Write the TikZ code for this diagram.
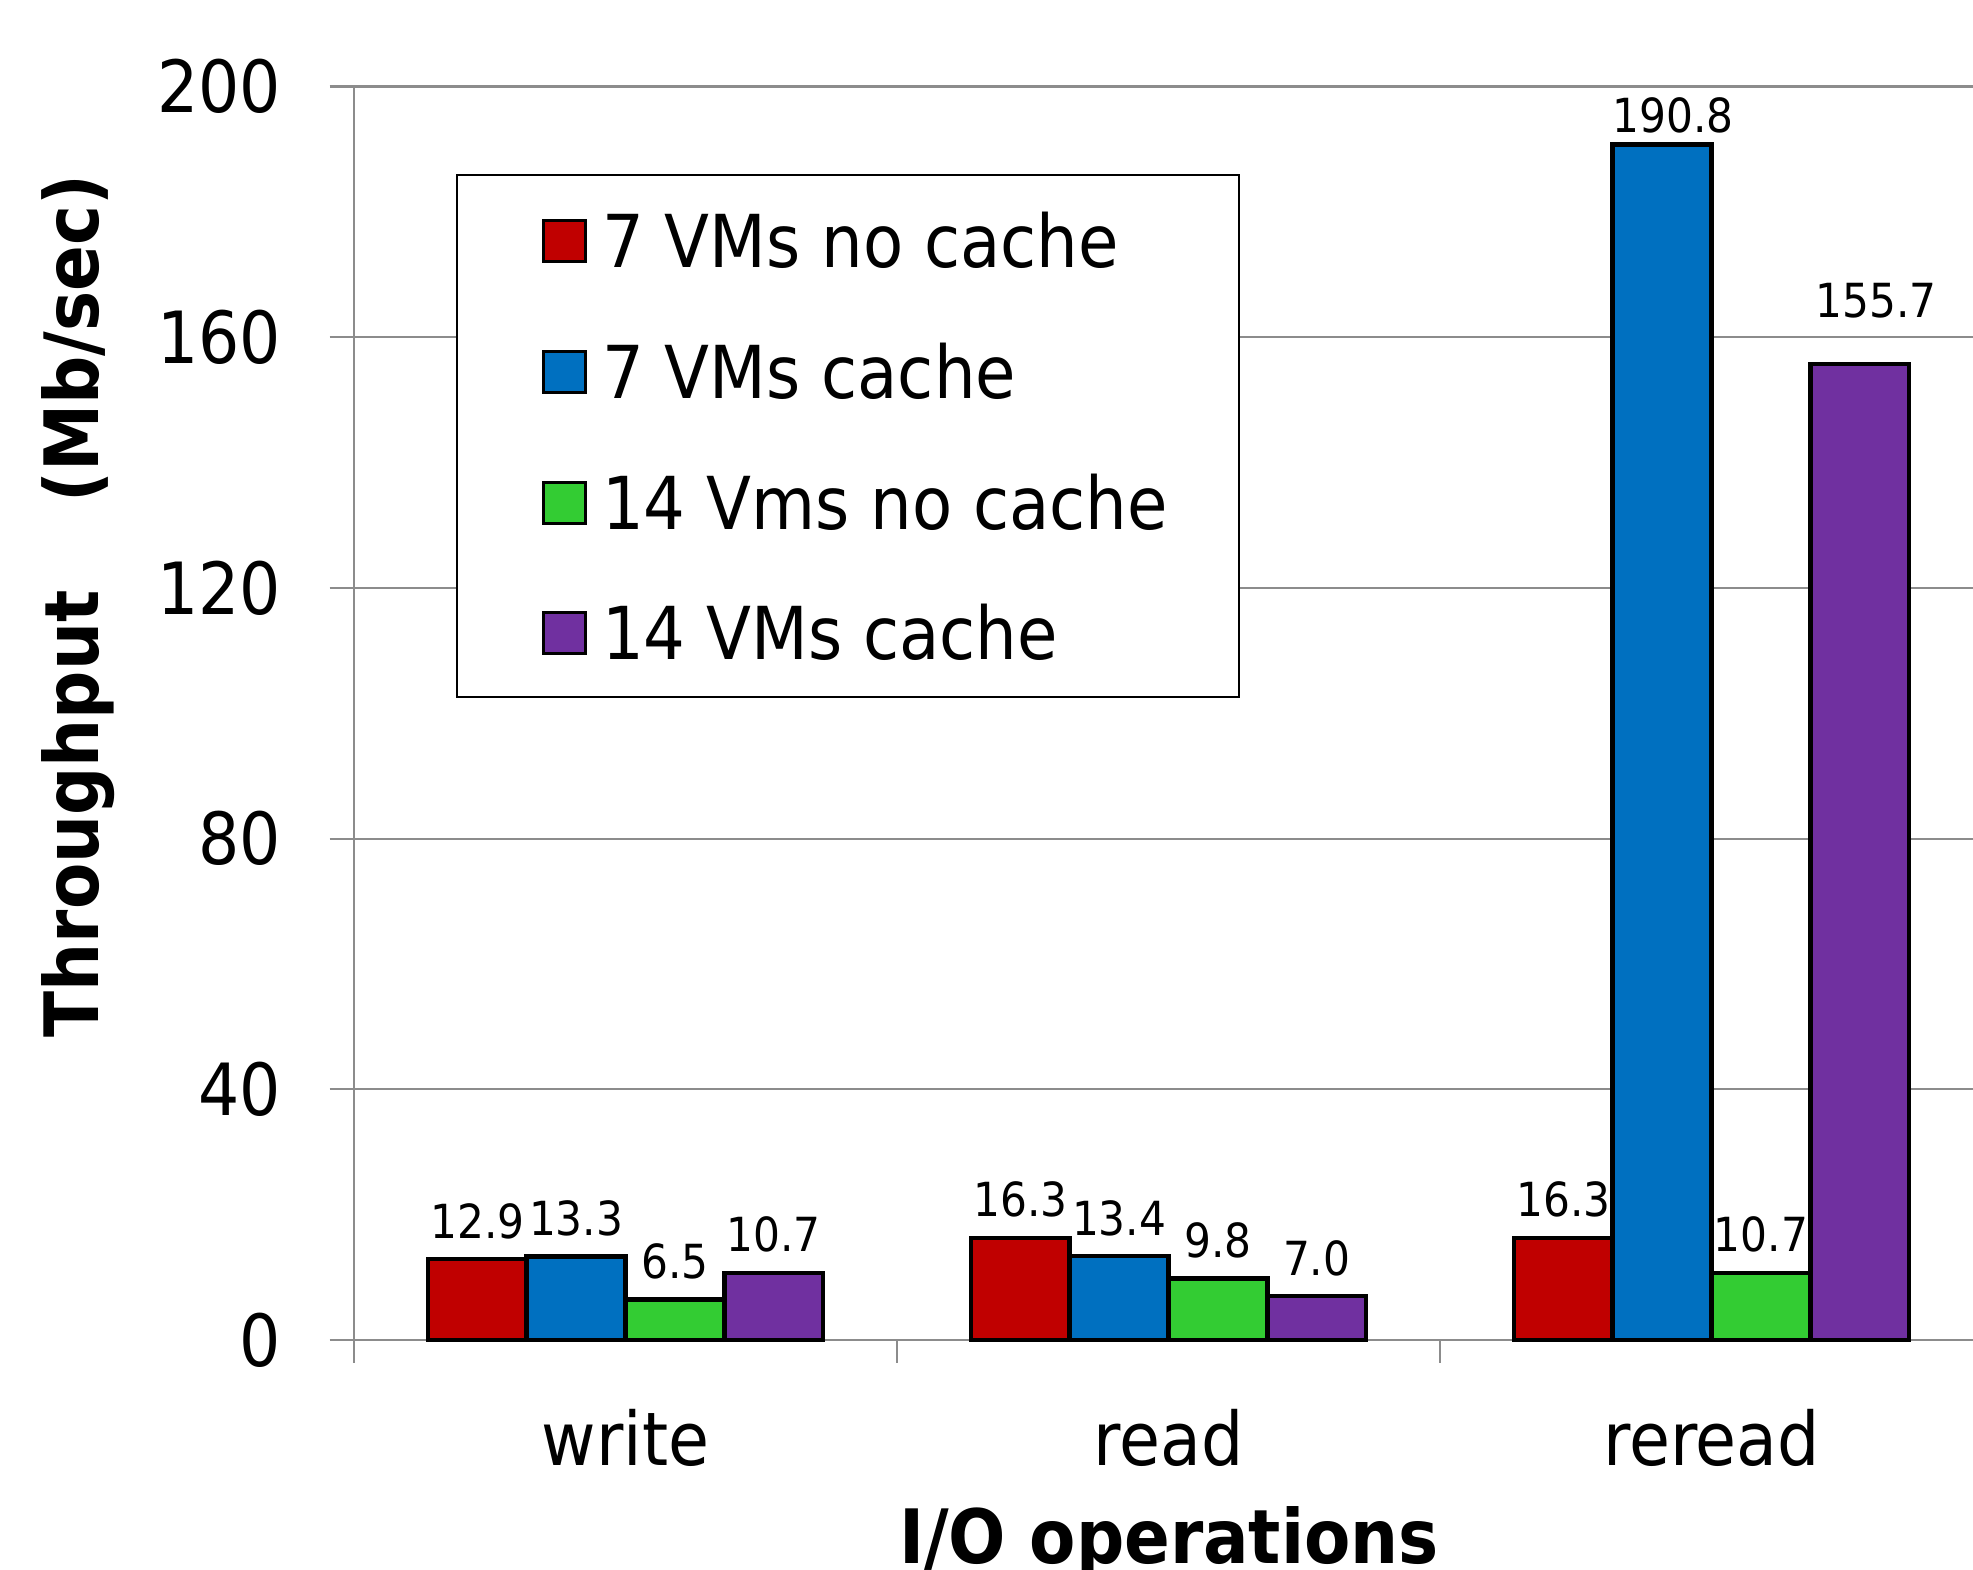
\documentclass[tikz,border=0pt]{standalone}
\usepackage{fontspec}
\setmainfont{DejaVu Sans}[FakeStretch=0.9]
\definecolor{cred}{HTML}{C00000}
\definecolor{cblue}{HTML}{0070C0}
\definecolor{cgreen}{HTML}{33CC33}
\definecolor{cpurple}{HTML}{7030A0}
\definecolor{gridc}{HTML}{8C8C8C}
\tikzset{
  gridline/.style={draw=gridc, line width=2.2pt},
  barbox/.style={draw=black, line width=4.5pt, line join=miter},
  swatch/.style={draw=black, line width=3pt},
  ticklab/.style={anchor=east, inner sep=0pt, font=\fontsize{72}{80}\selectfont},
  catlab/.style={anchor=base, inner sep=0pt, font=\fontsize{74}{80}\selectfont},
  vallab/.style={anchor=base, inner sep=0pt, font=\fontsize{47}{50}\selectfont},
  leglab/.style={anchor=base west, inner sep=0pt, font=\fontsize{73}{80}\selectfont},
  axtitle/.style={anchor=base, inner sep=0pt, font=\bfseries\fontsize{75}{80}\selectfont}
}
\newcommand{\yv}[1]{1340-#1*6.267}
\begin{document}
\begin{tikzpicture}[x=1pt,y=-1pt]
\useasboundingbox (0,0) rectangle (1973,1570);
% grid lines and ticks
\foreach \v in {0,40,80,120,160,200}{
  \draw[gridline] (329.7,{\yv{\v}}) -- (1973,{\yv{\v}});
  \node[ticklab] (t\v) at (281,{\yv{\v}}) {\v};
}
\draw[gridline] (354,{\yv{200}}) -- (354,1363);
\draw[gridline] (897,1340) -- (897,1363);
\draw[gridline] (1440,1340) -- (1440,1363);
% bars
\foreach \g/\gl in {0/427.9,1/970.9,2/1513.9}{
  \ifcase\g
    \def\vals{12.9/cred/0,13.3/cblue/1,6.5/cgreen/2,10.7/cpurple/3}
  \or
    \def\vals{16.3/cred/0,13.4/cblue/1,9.8/cgreen/2,7.0/cpurple/3}
  \or
    \def\vals{16.3/cred/0,190.8/cblue/1,10.7/cgreen/2,155.7/cpurple/3}
  \fi
  \foreach \val/\col/\i in \vals{
    \draw[barbox, fill=\col] ({\gl+\i*98.8},1340) rectangle ({\gl+(\i+1)*98.8},{\yv{\val}});
  }
}
% value labels
\node[vallab] (w1) at (477.3,{\yv{12.9}-21}) {12.9};
\node[vallab] (w2) at (576.1,{\yv{13.3}-21}) {13.3};
\node[vallab] (w3) at (674.9,{\yv{6.5}-21}) {6.5};
\node[vallab] (w4) at (773.7,{\yv{10.7}-21}) {10.7};
\node[vallab] (r1) at (1020.3,{\yv{16.3}-21}) {16.3};
\node[vallab] (r2) at (1119.1,{\yv{13.4}-21}) {13.4};
\node[vallab] (r3) at (1217.9,{\yv{9.8}-21}) {9.8};
\node[vallab] (r4) at (1316.7,{\yv{7.0}-21}) {7.0};
\node[vallab] (rr1) at (1563.3,{\yv{16.3}-21}) {16.3};
\node[vallab] (rr2) at (1673,133) {190.8};
\node[vallab] (rr3) at (1760.9,{\yv{10.7}-21}) {10.7};
\node[vallab] (rr4) at (1876,318) {155.7};
% category labels
\node[catlab] (cw) at (625.5,1465) {write};
\node[catlab] (cr) at (1168.5,1465) {read};
\node[catlab] (crr) at (1711.5,1465) {reread};
% axis titles
\node[axtitle] (xt) at (1169,1563) {I/O operations};
\node[axtitle, rotate=90] (yt) at (98,606) {Throughput\hspace{88pt}(Mb/sec)};
% legend
\draw[draw=black, line width=2pt, fill=white] (456.8,175) rectangle (1239.4,697);
\foreach \c/\y/\t/\n in {cred/241/{7 VMs no cache}/a, cblue/372/{7 VMs cache}/b, cgreen/503/{14 Vms no cache}/c, cpurple/633/{14 VMs cache}/d}{
  \draw[swatch, fill=\c] (543.6,{\y-20.7}) rectangle (585,{\y+20.7});
  \node[leglab] (leg\n) at (602,{\y+26.5}) {\t};
}
\end{tikzpicture}
\end{document}
